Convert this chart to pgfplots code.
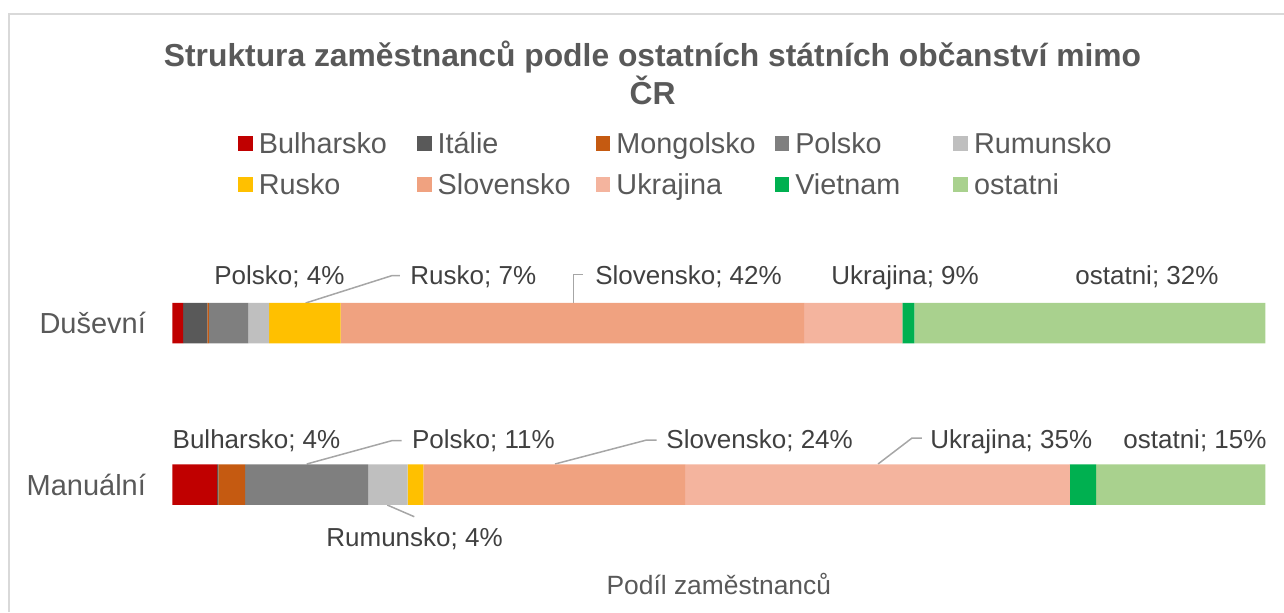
\documentclass[border=0pt]{standalone}
\usepackage{fontspec}
\setmainfont{Liberation Sans}
\usepackage{pgfplots}
\pgfplotsset{compat=1.18}
\definecolor{txt}{HTML}{595959}
\definecolor{lbl}{HTML}{404040}
\definecolor{cBul}{HTML}{C00000}
\definecolor{cIta}{HTML}{595959}
\definecolor{cMon}{HTML}{C55A11}
\definecolor{cPol}{HTML}{7F7F7F}
\definecolor{cRum}{HTML}{BFBFBF}
\definecolor{cRus}{HTML}{FFC000}
\definecolor{cSlo}{HTML}{F0A280}
\definecolor{cUkr}{HTML}{F4B49E}
\definecolor{cVie}{HTML}{00B050}
\definecolor{cOst}{HTML}{A9D18E}
\definecolor{lead}{HTML}{A6A6A6}
\definecolor{frm}{HTML}{D9D9D9}
\begin{document}
\begin{tikzpicture}
\begin{scope}[x=0.5pt,y=-0.5pt]
\useasboundingbox (0,0) rectangle (1284,612);
\draw[frm, line width=1pt] (9,612) -- (9,14) -- (1284,14);
\node[anchor=base, inner sep=0pt, text=txt, font=\bfseries\fontsize{15.9}{19}\selectfont] at (652.5,66) {Struktura zaměstnanců podle ostatních státních občanství mimo};
\node[anchor=base, inner sep=0pt, text=txt, font=\bfseries\fontsize{15.9}{19}\selectfont] at (652.5,104) {ČR};
\end{scope}
\begin{axis}[
  at={(86.15pt,-282.625pt)}, anchor=south west,
  scale only axis, width=546.5pt, height=161.5pt,
  xbar stacked, bar width=20.25pt,
  xmin=0, xmax=100, ymin=-0.5, ymax=1.5,
  ytick={0,1}, yticklabels={Manuální,Duševní},
  xtick=\empty,
  axis line style={draw=none},
  major tick length=0pt,
  clip=false,
  yticklabel style={inner sep=0pt, xshift=-13pt, text=txt, font=\fontsize{14.5}{17}\selectfont},
  xlabel={Podíl zaměstnanců},
  xlabel style={at={(axis description cs:0.5,0)}, anchor=base, yshift=-14.4pt, inner sep=0pt, text=txt, font=\fontsize{13.2}{15}\selectfont},
  legend columns=5,
  legend image code/.code={\fill[#1] (0pt,1.2pt) rectangle (7.3pt,8.4pt);},
  legend style={at={(0.06,1.355)}, anchor=north west, draw=none, fill=none, inner sep=0pt,
    cells={anchor=base west}, text=txt, font=\fontsize{14.4}{17}\selectfont,
    /tikz/every odd column/.append style={column sep=1pt},
    /tikz/every even column/.append style={column sep=0pt},
    row sep=4.6pt},
]
\addplot[fill=cBul, draw=none] coordinates {(1.0,1) (4.1,0)};
\addplot[fill=cIta, draw=none] coordinates {(2.2,1) (0.12,0)};
\addplot[fill=cMon, draw=none] coordinates {(0.15,1) (2.45,0)};
\addplot[fill=cPol, draw=none] coordinates {(3.6,1) (11.25,0)};
\addplot[fill=cRum, draw=none] coordinates {(1.9,1) (3.6,0)};
\addplot[fill=cRus, draw=none] coordinates {(6.55,1) (1.45,0)};
\addplot[fill=cSlo, draw=none] coordinates {(42.4,1) (23.95,0)};
\addplot[fill=cUkr, draw=none] coordinates {(9.0,1) (35.2,0)};
\addplot[fill=cVie, draw=none] coordinates {(1.1,1) (2.4,0)};
\addplot[fill=cOst, draw=none] coordinates {(32.1,1) (15.48,0)};
\addlegendentry{\makebox[77.1pt][l]{Bulharsko}}
\addlegendentry{\makebox[77.1pt][l]{Itálie}}
\addlegendentry{\makebox[77.1pt][l]{Mongolsko}}
\addlegendentry{\makebox[77.1pt][l]{Polsko}}
\addlegendentry{\makebox[77.1pt][l]{Rumunsko}}
\addlegendentry{\makebox[77.1pt][l]{Rusko}}
\addlegendentry{\makebox[77.1pt][l]{Slovensko}}
\addlegendentry{\makebox[77.1pt][l]{Ukrajina}}
\addlegendentry{\makebox[77.1pt][l]{Vietnam}}
\addlegendentry{\makebox[77.1pt][l]{ostatni}}
% data labels
\tikzset{dl/.style={anchor=base west, inner sep=0pt, text=lbl, font=\fontsize{13}{15}\selectfont},
         ld/.style={draw=lead, line width=0.75pt}}
\node[dl] at (axis cs:3.815,1.2396) {Polsko; 4\%};
\node[dl] at (axis cs:21.75,1.2396) {Rusko; 7\%};
\node[dl] at (axis cs:38.67,1.2396) {Slovensko; 42\%};
\node[dl] at (axis cs:60.27,1.2396) {Ukrajina; 9\%};
\node[dl] at (axis cs:82.59,1.2396) {ostatni; 32\%};
\draw[ld] (axis cs:12.20,1.1238) -- (axis cs:20.07,1.2929) -- (axis cs:20.83,1.2929);
\draw[ld] (axis cs:36.69,1.1238) -- (axis cs:36.69,1.3015) -- (axis cs:37.57,1.3015);
\node[dl] at (axis cs:0,0.2241) {Bulharsko; 4\%};
\node[dl] at (axis cs:21.90,0.2241) {Polsko; 11\%};
\node[dl] at (axis cs:45.17,0.2241) {Slovensko; 24\%};
\node[dl] at (axis cs:69.32,0.2241) {Ukrajina; 35\%};
\node[dl] at (axis cs:86.98,0.2241) {ostatni; 15\%};
\node[dl] at (axis cs:14.06,-0.3851) {Rumunsko; 4\%};
\draw[ld] (axis cs:12.30,0.127) -- (axis cs:20.07,0.2712) -- (axis cs:20.99,0.2712);
\draw[ld] (axis cs:35.01,0.127) -- (axis cs:43.40,0.2755) -- (axis cs:44.32,0.2755);
\draw[ld] (axis cs:64.57,0.127) -- (axis cs:67.68,0.2879) -- (axis cs:68.59,0.2879);
\draw[ld] (axis cs:19.67,-0.127) -- (axis cs:22.14,-0.1994);
\end{axis}
\end{tikzpicture}
\end{document}
